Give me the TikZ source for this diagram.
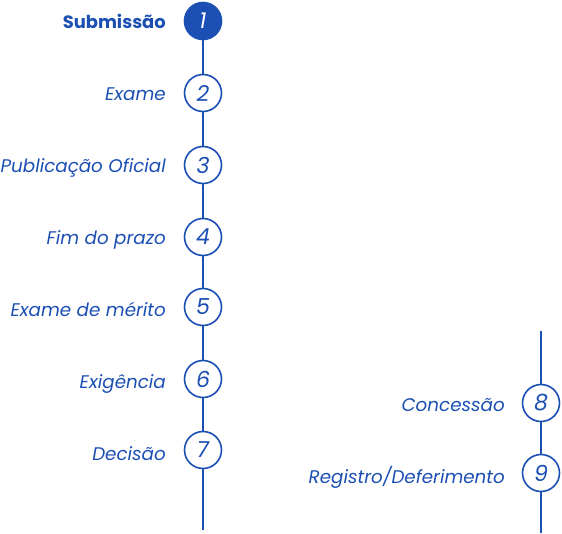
\documentclass[tikz,border=0pt]{standalone}
\usepackage{fontspec}
\setmainfont{Poppins}
\definecolor{tblue}{HTML}{1B4FB3}
\begin{document}
\begin{tikzpicture}[x=1pt,y=-1pt,
  stepc/.style={circle,draw=tblue,line width=1.6pt,fill=white,minimum size=37pt,inner sep=0pt,text=tblue,font=\fontsize{22}{22}\selectfont\itshape},
  stepl/.style={anchor=base east,text=tblue,inner sep=0pt,font=\fontsize{18.3}{20}\selectfont\itshape},
  tline/.style={draw=tblue,line width=1.2pt}]
\useasboundingbox (0,0) rectangle (562,533);
\coordinate (lbot) at (203,530);
\coordinate (rtop) at (541,331);
\coordinate (rbot) at (541,533);
\draw[tline] (203,21) -- (lbot);
\draw[tline] (rtop) -- (rbot);
\node[stepc,fill=tblue,text=white] (c1) at (203,21) {1};
\node[stepc] (c2) at (203,93) {2};
\node[stepc] (c3) at (203,165) {3};
\node[stepc] (c4) at (203,237) {4};
\node[stepc] (c5) at (203,307) {5};
\node[stepc] (c6) at (203,379) {6};
\node[stepc] (c7) at (203,450) {7};
\node[stepc] (c8) at (541,403) {8};
\node[stepc] (c9) at (541,473) {9};
\node[stepl,font=\fontsize{17.9}{20}\selectfont\bfseries] (t1) at (166,28) {Submissão};
\node[stepl] (t2) at (166,100.5) {Exame};
\node[stepl] (t3) at (166,172.5) {Publicação Oficial};
\node[stepl] (t4) at (166,244.5) {Fim do prazo};
\node[stepl] (t5) at (166,316.5) {Exame de mérito};
\node[stepl] (t6) at (166,388.5) {Exigência};
\node[stepl] (t7) at (166,460.5) {Decisão};
\node[stepl] (t8) at (505,411.5) {Concessão};
\node[stepl] (t9) at (505,483.5) {Registro/Deferimento};
\end{tikzpicture}
\end{document}
